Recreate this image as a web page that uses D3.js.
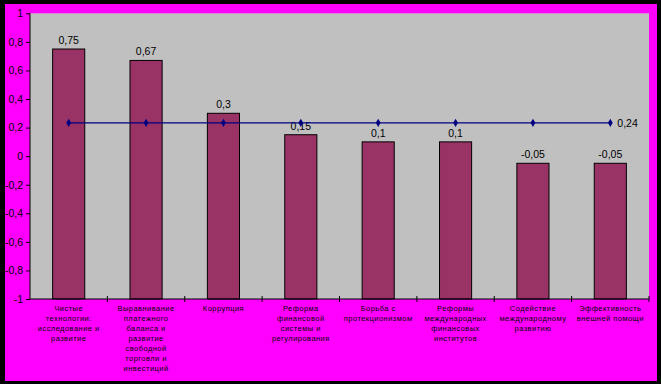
<!DOCTYPE html>
<html><head><meta charset="utf-8">
<script src="https://cdn.jsdelivr.net/npm/d3@7"></script>
<style>html,body{margin:0;padding:0;background:#000;}svg{display:block;}</style>
</head><body>
<svg id="c" width="661" height="384"></svg>
<script>
const categories = [
  ["Чистые","технологии:","исследование и","развитие"],
  ["Выравнивание","платежного","баланса и","развитие","свободной","торговли и","инвестиций"],
  ["Коррупция"],
  ["Реформа","финансовой","системы и","регулирования"],
  ["Борьба с","протекционизмом"],
  ["Реформы","международных","финансовых","институтов"],
  ["Содействие","международному","развитию"],
  ["Эффективность","внешней помощи"]
];
const barValues = [0.75, 0.67, 0.3, 0.15, 0.1, 0.1, -0.05, -0.05];
const lineValues = [0.24, 0.24, 0.24, 0.24, 0.24, 0.24, 0.24, 0.24];
const yTicks = [1, 0.8, 0.6, 0.4, 0.2, 0, -0.2, -0.4, -0.6, -0.8, -1];

const svg = d3.select("#c");
const fmt = v => String(v).replace(".", ",");

svg.append("rect").attr("x",0).attr("y",0).attr("width",661).attr("height",384).attr("fill","#000");
svg.append("rect").attr("x",5).attr("y",4).attr("width",652).attr("height",377).attr("fill","#FF00FF");

const L = 30, R = 649, T = 13.3, B = 299;
svg.append("rect").attr("x",L).attr("y",T).attr("width",R-L).attr("height",B-T).attr("fill","#C0C0C0");

const x = d3.scaleBand().domain(d3.range(categories.length)).range([L, R]).paddingInner(0.585).paddingOuter(0.2925);
const xc = d3.scaleBand().domain(d3.range(categories.length)).range([L, R]);
const y = d3.scaleLinear().domain([-1, 1]).range([B, T]);

// bars
svg.selectAll("rect.bar").data(barValues).enter().append("rect")
  .attr("class","bar")
  .attr("x",(d,i)=>x(i)).attr("width",x.bandwidth())
  .attr("y",d=>y(d)).attr("height",d=>y(-1)-y(d))
  .attr("fill","#993366").attr("stroke","#000").attr("stroke-width",1);

// bar labels
svg.selectAll("text.bl").data(barValues).enter().append("text")
  .attr("x",(d,i)=>xc(i)+xc.bandwidth()/2).attr("y",d=>y(d)-5)
  .attr("text-anchor","middle").attr("font-family","Arial, Liberation Sans, sans-serif")
  .attr("font-size","10.5px").attr("fill","#000").text(d=>fmt(d));

// line
const line = d3.line().x((d,i)=>xc(i)+xc.bandwidth()/2).y(d=>y(d)+1);
svg.append("path").datum(lineValues).attr("d",line).attr("fill","none").attr("stroke","#000080").attr("stroke-width",1.2);
svg.selectAll("path.mk").data(lineValues).enter().append("path")
  .attr("transform",(d,i)=>`translate(${xc(i)+xc.bandwidth()/2},${y(d)+1})`)
  .attr("d",d3.symbol().type(d3.symbolDiamond).size(20)).attr("fill","#000080");
const li = lineValues.length-1;
svg.append("text").attr("x",xc(li)+xc.bandwidth()/2+7).attr("y",y(lineValues[li])+5)
  .attr("font-family","Arial, Liberation Sans, sans-serif").attr("font-size","10.5px").attr("fill","#000").text(fmt(lineValues[li]));

// y axis
const yAxis = d3.axisLeft(y).tickValues(yTicks).tickSize(4).tickFormat(fmt);
const ya = svg.append("g").attr("transform",`translate(${L},0)`).call(yAxis);
ya.select(".domain").attr("stroke","#000").attr("d",`M0,${T}V${B}`);
ya.selectAll(".tick line").attr("stroke","#000");
ya.selectAll(".tick text").attr("font-family","Arial, Liberation Sans, sans-serif").attr("font-size","10.5px").attr("fill","#000").attr("x",-7);

// x axis
svg.append("line").attr("x1",L).attr("x2",R).attr("y1",B).attr("y2",B).attr("stroke","#000");
const bounds = d3.range(categories.length+1).map(i => i<categories.length ? xc(i) : R);
svg.selectAll("line.xt").data(bounds.slice(1)).enter().append("line")
  .attr("x1",d=>d).attr("x2",d=>d).attr("y1",B-3).attr("y2",B+3).attr("stroke","#000");

// category labels
const cl = svg.selectAll("text.cl").data(categories).enter().append("text")
  .attr("text-anchor","middle").attr("font-family","Arial, Liberation Sans, sans-serif")
  .attr("font-size","7.5px").attr("letter-spacing","0.45px").attr("fill","#000")
  .attr("transform",(d,i)=>`translate(${xc(i)+xc.bandwidth()/2},${B+12})`);
cl.each(function(d){
  d3.select(this).selectAll("tspan").data(d).enter().append("tspan")
    .attr("x",0).attr("dy",(t,j)=>j===0?0:10).text(t=>t);
});
</script>
</body></html>
